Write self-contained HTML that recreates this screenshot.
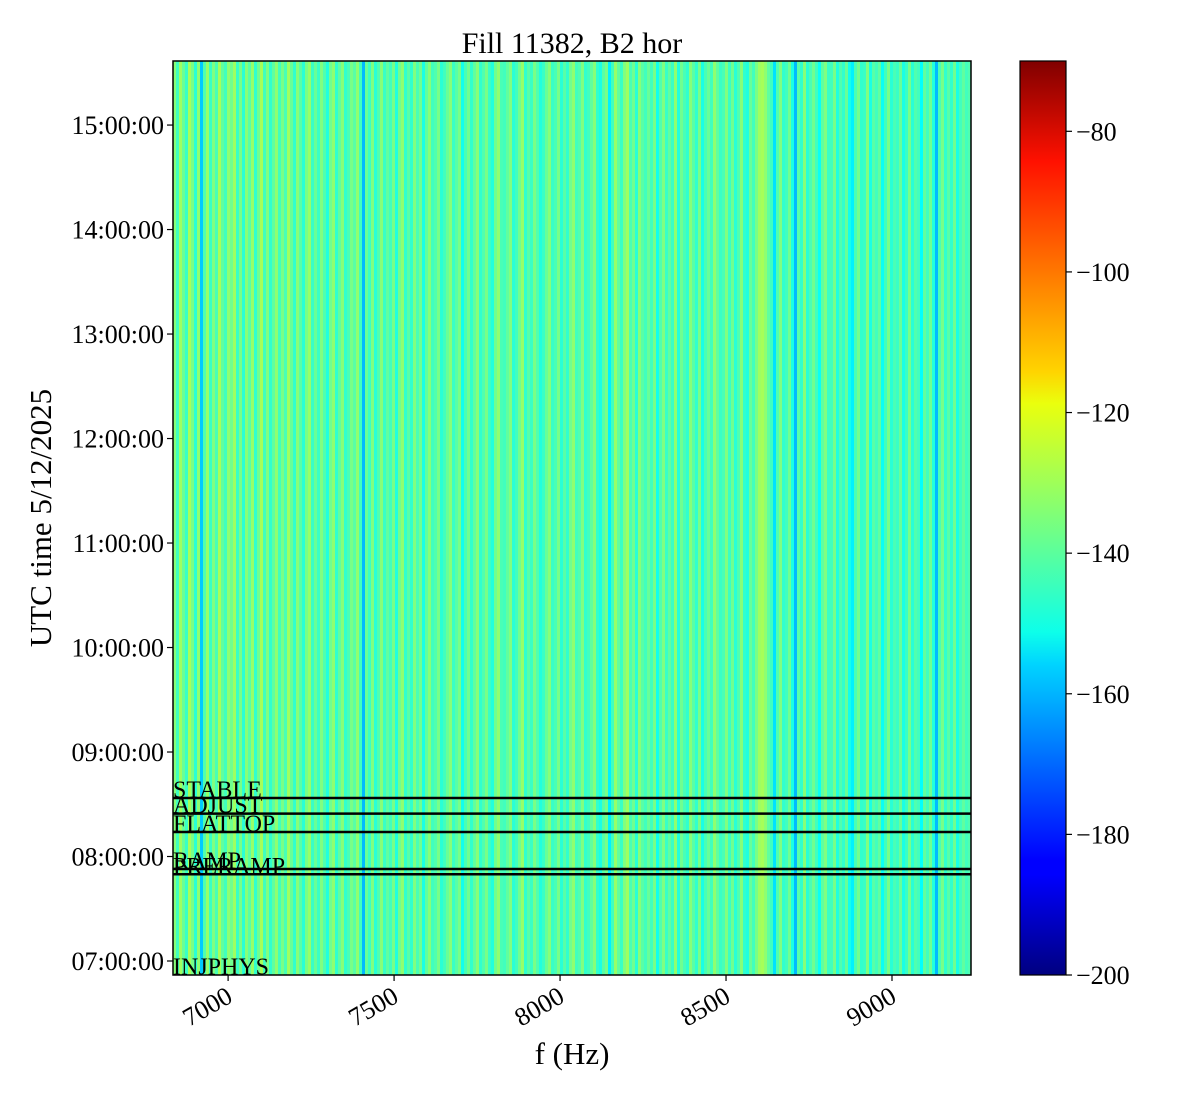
<!DOCTYPE html>
<html><head><meta charset="utf-8"><style>
body{margin:0;background:#fff;}
svg{display:block;font-family:"Liberation Serif",serif;}
</style></head><body>
<svg id="chart" width="1200" height="1100" xmlns="http://www.w3.org/2000/svg">
<defs><linearGradient id="jet" x1="0" y1="1" x2="0" y2="0">
<stop offset="0" stop-color="#000080"/><stop offset="0.11" stop-color="#0000ff"/><stop offset="0.125" stop-color="#0000ff"/>
<stop offset="0.34" stop-color="#00d4ff"/><stop offset="0.375" stop-color="#0dffea"/><stop offset="0.5" stop-color="#7dff7a"/>
<stop offset="0.625" stop-color="#eaff0d"/><stop offset="0.66" stop-color="#ffd400"/><stop offset="0.89" stop-color="#ff1100"/>
<stop offset="1" stop-color="#800000"/></linearGradient></defs>
<g id="cells"></g>
<g id="events"></g>
<rect x="173" y="61" width="798" height="914" fill="none" stroke="#000" stroke-width="1.5"/>
<g id="xaxis"></g>
<g id="yaxis"></g>
<text x="572" y="53" font-size="30" text-anchor="middle">Fill 11382, B2 hor</text>
<text x="572" y="1064" font-size="31" text-anchor="middle">f (Hz)</text>
<text transform="translate(51,518) rotate(-90)" font-size="31" text-anchor="middle">UTC time 5/12/2025</text>
<rect x="1020" y="61" width="46" height="914" fill="url(#jet)" stroke="#000" stroke-width="1.2"/>
<g id="cbaxis"></g>
</svg>
<script>
const values = [
-134,-143,-131,-138,-144,-130,-136,-146,-133,-158,-141,-132,-144,-135,-142,-130,-139,-143,-133,-137,
-131,-144,-136,-146,-134,-140,-132,-145,-137,-130,-143,-135,-145,-139,-133,-143,-136,-142,-131,-138,
-145,-134,-140,-146,-136,-132,-144,-138,-144,-135,-141,-147,-137,-133,-145,-139,-134,-145,-142,-136,
-140,-133,-143,-160,-138,-144,-135,-146,-141,-134,-144,-139,-143,-136,-147,-137,-133,-145,-140,-145,
-135,-142,-137,-148,-139,-134,-143,-141,-136,-146,-143,-138,-134,-144,-140,-136,-149,-142,-137,-145,
-139,-134,-145,-141,-136,-144,-147,-137,-133,-142,-143,-139,-135,-146,-143,-137,-132,-145,-140,-144,
-136,-141,-147,-144,-138,-134,-144,-142,-136,-146,-140,-145,-137,-133,-143,-141,-135,-145,-143,-139,
-134,-145,-148,-140,-136,-153,-143,-132,-139,-144,-135,-131,-142,-137,-146,-134,-140,-143,-138,-143,
-136,-149,-141,-135,-144,-139,-144,-133,-147,-137,-142,-145,-134,-140,-145,-136,-148,-142,-138,-143,
-133,-139,-144,-142,-135,-144,-137,-146,-141,-134,-145,-147,-138,-143,-136,-131,-130,-133,-139,-143,
-155,-141,-135,-145,-143,-137,-148,-160,-140,-145,-134,-146,-142,-137,-143,-150,-139,-135,-144,-143,
-136,-147,-141,-145,-138,-149,-153,-142,-137,-145,-144,-135,-148,-140,-143,-139,-150,-143,-136,-146,
-142,-144,-138,-148,-144,-136,-146,-141,-143,-151,-139,-143,-137,-147,-160,-142,-136,-145,-140,-145,
-137,-148,-143,-139,-143,-141];
const fRange = [6834, 9238];
const tRange = [6.866, 15.613];
const xTicks = [7000, 7500, 8000, 8500, 9000];
const yTicks = [7, 8, 9, 10, 11, 12, 13, 14, 15];
const eventNames = ["INJPHYS", "PRERAMP", "RAMP", "FLATTOP", "ADJUST", "STABLE"];
const eventTimes = [6.866, 7.83, 7.88, 8.234, 8.41, 8.56];
const cbTicks = [-80, -100, -120, -140, -160, -180, -200];
const cRange = [-200, -70];

const NS = "http://www.w3.org/2000/svg";
const X0 = 173, X1 = 971, Y0 = 61, Y1 = 975;
const xs = f => X0 + (f - fRange[0]) / (fRange[1] - fRange[0]) * (X1 - X0);
const ys = t => Y1 - (t - tRange[0]) / (tRange[1] - tRange[0]) * (Y1 - Y0);
const cs = v => Y1 - (v - cRange[0]) / (cRange[1] - cRange[0]) * (Y1 - Y0);
function jet(v) {
  const x = Math.max(0, Math.min(1, (v - cRange[0]) / (cRange[1] - cRange[0])));
  const c = a => Math.round(255 * Math.max(0, Math.min(1, a)));
  return `rgb(${c(1.5 - Math.abs(4 * x - 3))},${c(1.5 - Math.abs(4 * x - 2))},${c(1.5 - Math.abs(4 * x - 1))})`;
}
function mk(tag, attrs, parent, txt) {
  const e = document.createElementNS(NS, tag);
  for (const k in attrs) e.setAttribute(k, attrs[k]);
  if (txt !== undefined) e.textContent = txt;
  parent.appendChild(e);
  return e;
}
const cells = document.getElementById('cells');
const df = (fRange[1] - fRange[0]) / values.length;
values.forEach((v, i) => {
  const xa = xs(fRange[0] + i * df), xb = xs(fRange[0] + (i + 1) * df);
  const r = mk('rect', {x: xa, y: Y0, width: xb - xa + 0.4, height: Y1 - Y0, fill: jet(v), 'shape-rendering': 'crispEdges'}, cells);
  
  
});
const ev = document.getElementById('events');
eventNames.forEach((n, i) => {
  const y = ys(eventTimes[i]);
  if (i > 0) {
    const l = mk('line', {x1: X0, x2: X1, y1: y, y2: y, stroke: '#000', 'stroke-width': 2.5}, ev);
    
    
  }
  const t = mk('text', {x: X0, y: y - 0.5, 'font-size': 24}, ev, n);
  
  
});
const xa = document.getElementById('xaxis');
xTicks.forEach(f => {
  const x = xs(f);
  mk('line', {x1: x, x2: x, y1: Y1, y2: Y1 + 6, stroke: '#000', 'stroke-width': 1.2}, xa);
  const t = mk('text', {x: 0, y: 0, 'font-size': 26, 'text-anchor': 'end', transform: `translate(${x + 6},${Y1 + 26}) rotate(-30)`}, xa, String(f));
  
  
});
const ya = document.getElementById('yaxis');
yTicks.forEach(h => {
  const y = ys(h);
  mk('line', {x1: X0 - 6, x2: X0, y1: y, y2: y, stroke: '#000', 'stroke-width': 1.2}, ya);
  const t = mk('text', {x: X0 - 9, y: y + 9, 'font-size': 26, 'text-anchor': 'end'}, ya, String(h).padStart(2, '0') + ':00:00');
  
  
});
const cb = document.getElementById('cbaxis');
cbTicks.forEach(v => {
  const y = cs(v);
  mk('line', {x1: 1066, x2: 1072, y1: y, y2: y, stroke: '#000', 'stroke-width': 1.2}, cb);
  const t = mk('text', {x: 1076, y: y + 9, 'font-size': 26}, cb, '\u2212' + Math.abs(v));
  
  
});
</script>
</body></html>
